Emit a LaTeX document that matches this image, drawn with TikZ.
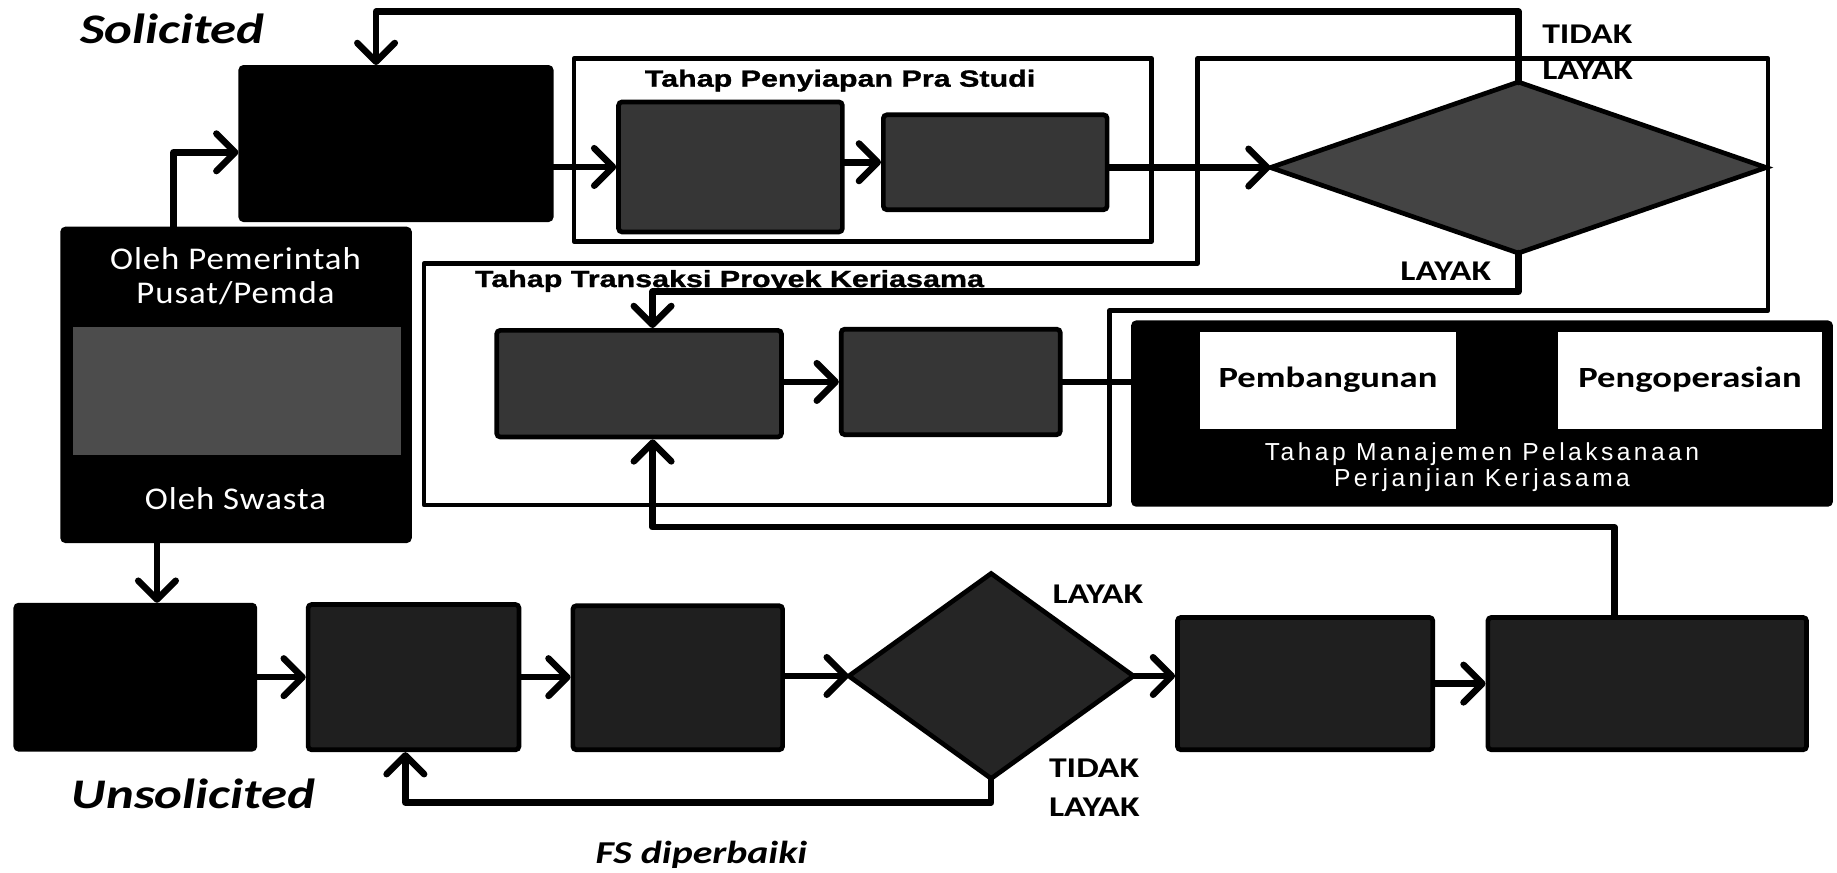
\documentclass[tikz,border=0pt]{standalone}
\usepackage{fontspec}
\setmainfont{Carlito}
\newfontfamily\calst[FakeStretch=1.25]{Carlito}
\newfontfamily\arst[FakeStretch=1.3,FakeBold=1.2]{Liberation Sans}
\newfontfamily\olst[FakeStretch=1.1,LetterSpace=3]{Carlito}
\newfontfamily\mgsp[LetterSpace=14]{Liberation Sans}
\usetikzlibrary{arrows.meta,shapes.geometric,calc}
\definecolor{upg}{HTML}{363636}
\definecolor{lowg}{HTML}{1F1F1F}
\definecolor{dmone}{HTML}{444444}
\definecolor{dmtwo}{HTML}{252525}
\definecolor{bandg}{HTML}{4C4C4C}
\tikzset{
  conn/.style={line width=2.8pt, line cap=round, line join=round},
  arr/.style={conn, -{Straight Barb[round,length=8pt,width=16pt]}},
  frm/.style={line width=2pt, line join=round},
  blk/.style={draw=black, line width=1.5pt, fill=black, rounded corners=1.5pt, inner sep=0pt},
  gbox/.style={draw=black, line width=2pt, fill=upg, rounded corners=1.5pt, inner sep=0pt},
  lbox/.style={gbox, fill=lowg},
  wbox/.style={draw=none, fill=white, inner sep=0pt},
  dia/.style={diamond, draw=black, line width=2pt, inner sep=0pt, outer sep=0pt},
  ital/.style={font=\calst\bfseries\itshape\fontsize{18pt}{20pt}\selectfont, inner sep=0pt, anchor=base west},
  yn/.style={font=\calst\bfseries\fontsize{12.2pt}{14pt}\selectfont, inner sep=0pt, anchor=base west},
  ttl/.style={font=\arst\bfseries\fontsize{10pt}{12pt}\selectfont, inner sep=0pt, anchor=base west},
  wtxt/.style={font=\olst\fontsize{13.5pt}{15pt}\selectfont, text=white, inner sep=0pt, anchor=base},
  mtxt/.style={font=\mgsp\fontsize{10.5pt}{12pt}\selectfont, text=white, inner sep=0pt, anchor=base},
  btxt/.style={font=\calst\bfseries\fontsize{12.5pt}{14pt}\selectfont, text=black, inner sep=0pt},
}
\begin{document}
\begin{tikzpicture}[x=0.5pt,y=-0.5pt]
\path[use as bounding box, fill=white] (0,0) rectangle (1568,745);

% frames
\node[draw=black, frm, minimum width=246.5pt, minimum height=78pt, inner sep=0pt] (framep) at (736.5,128) {};
\draw[frm] (362,225) -- (1022,225) -- (1022,50) -- (1509,50) -- (1509,265) -- (947,265) -- (947,431) -- (362,431) -- cycle;

% boxes
\node[blk, minimum width=133pt, minimum height=65.5pt] (S) at (338,122.5) {};
\node[blk, minimum width=148.5pt, minimum height=133.5pt] (O) at (201.5,328.5) {};
\node[draw=none, fill=bandg, minimum width=140pt, minimum height=54.5pt, inner sep=0pt] (band) at (202,333.5) {};
\node[blk, minimum width=102.5pt, minimum height=62pt] (U) at (115.5,578) {};
\node[gbox, minimum width=95.5pt, minimum height=55.5pt] (A) at (623.5,142.5) {};
\node[gbox, minimum width=95.5pt, minimum height=40.5pt] (B) at (849.5,138.5) {};
\node[dia, fill=dmone, minimum width=211.5pt, minimum height=73pt] (D1) at (1296,143) {};
\node[gbox, minimum width=121.5pt, minimum height=45.5pt] (C) at (545.5,327.5) {};
\node[gbox, minimum width=93.5pt, minimum height=45pt] (D) at (811.5,326) {};
\node[blk, minimum width=298pt, minimum height=78pt] (M) at (1265,353) {};
\node[wbox, minimum width=109.5pt, minimum height=41.5pt] (W1) at (1133.5,324.5) {};
\node[wbox, minimum width=112.5pt, minimum height=41.5pt] (W2) at (1442.5,324.5) {};
\node[lbox, minimum width=90pt, minimum height=62pt] (E) at (353,578) {};
\node[lbox, minimum width=89.5pt, minimum height=61.5pt] (F) at (578.5,578.5) {};
\node[dia, fill=dmtwo, minimum width=121.5pt, minimum height=87.5pt] (D2) at (846,577) {};
\node[lbox, minimum width=109pt, minimum height=56.5pt] (G) at (1114,583.5) {};
\node[lbox, minimum width=136pt, minimum height=56.5pt] (H) at (1406,583.5) {};

% texts
\node[ital] (tsol) at (68,37) {Solicited};
\node[ital] (tuns) at (61,690) {Unsolicited};
\node[ital, font=\calst\bfseries\itshape\fontsize{13.6pt}{15pt}\selectfont] (tfs) at (508,737) {FS diperbaiki};
\node[yn] (tl1) at (1316,37) {TIDAK};
\node[yn] (tl2) at (1316,68) {LAYAK};
\node[yn] (tl3) at (1195,239) {LAYAK};
\node[yn] (tl4) at (898,515) {LAYAK};
\node[yn] (tl5) at (895,664) {TIDAK};
\node[yn] (tl6) at (895,697) {LAYAK};
\node[ttl] (tp) at (550,74) {Tahap Penyiapan Pra Studi};
\node[ttl] (tt) at (405,245) {Tahap Transaksi Proyek Kerjasama};
\node[wtxt] (o1) at (201,230) {Oleh Pemerintah};
\node[wtxt] (o2) at (201,259) {Pusat/Pemda};
\node[wtxt] (o3) at (201,435) {Oleh Swasta};
\node[btxt] (pb) at (W1) {Pembangunan};
\node[btxt] (pg) at (W2) {Pengoperasian};
\node[mtxt] (m1) at (1265,393) {Tahap Manajemen Pelaksanaan};
\node[mtxt] (m2) at (1265,415) {Perjanjian Kerjasama};

% helper coordinates
\coordinate (ty) at (0,10);
\coordinate (ly) at (0,249);
\coordinate (hy) at (0,450);
\coordinate (fy) at (0,685);

% connectors
\draw[arr] ([xshift=-26.75pt]O.north) |- ([yshift=-3.75pt]S.west);
\draw[arr] ([xshift=-33.75pt]O.south) -- ([xshift=-33.75pt]O.south |- U.north);
\draw[arr] (S.east |- A.west) -- (A.west);
\draw[arr] (A.east |- B.west) -- (B.west);
\draw[arr] (B.east |- D1.west) -- (D1.west);
\draw[arr] (D1.north) -- (D1.north |- ty) -| ([xshift=-8.5pt]S.north);
\draw[arr] (D1.south) -- (D1.south |- ly) -| ([xshift=5.75pt]C.north);
\draw[arr] (C.east |- D.west) -- (D.west);
\draw[conn] (D.east) -- (D.east -| M.west);
\draw[arr] (U.east) -- (E.west);
\draw[arr] (E.east) -- (F.west |- E.east);
\draw[arr] (F.east |- D2.west) -- (D2.west);
\draw[arr] (D2.east) -- (D2.east -| G.west);
\draw[arr] (G.east) -- (H.west);
\draw[arr] ([xshift=-14pt]H.north) -- ([xshift=-14pt]H.north |- hy) -| ([xshift=5.75pt]C.south);
\draw[arr] (D2.south) -- (D2.south |- fy) -| ([xshift=-3.5pt]E.south);
\end{tikzpicture}
\end{document}
